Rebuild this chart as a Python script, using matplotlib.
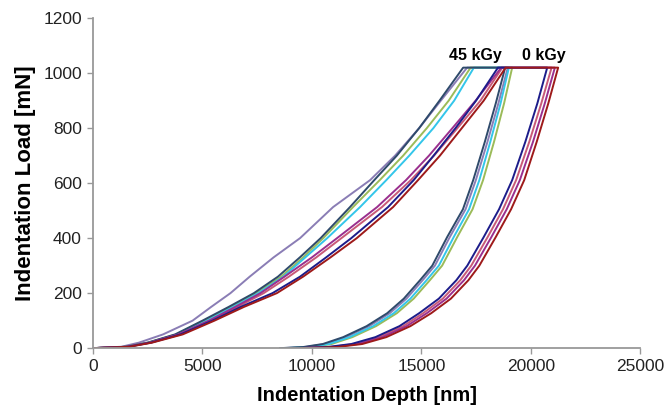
import matplotlib.pyplot as plt

# shared load levels [mN] for loading and unloading branches
load_up = [0, 5, 20, 50, 100, 150, 200, 260, 330, 400, 513, 611, 700, 800, 900, 1020]
load_down = [1020, 890, 750, 611, 505, 404, 300, 247, 180, 127, 80, 40, 15, 4, 0]

# 45 kGy specimens: depth [nm] at each load level
lav_up = [0, 1300, 2100, 3200, 4550, 5400, 6280, 7160, 8250, 9460, 10970, 12660, 13800, 14900, 15890, 17090]
lav_down = [18950, 18520, 18020, 17490, 17020, 16300, 15620, 15060, 14320, 13560, 12620, 11550, 10600, 9700, 8650]
slate_up = [0, 1500, 2500, 3750, 5000, 6200, 7350, 8450, 9450, 10400, 11740, 12850, 13880, 14900, 15830, 16910]
slate_down = [18830, 18400, 17900, 17370, 16900, 16180, 15500, 14940, 14200, 13440, 12500, 11430, 10500, 9600, 8550]
green_up = [0, 1500, 2500, 3800, 5100, 6300, 7450, 8600, 9600, 10520, 11880, 13100, 14170, 15250, 16250, 17250]
green_down = [19150, 18780, 18320, 17820, 17340, 16640, 15950, 15390, 14650, 13880, 12930, 11850, 10900, 9950, 8950]
cyan_up = [0, 1550, 2550, 3850, 5200, 6400, 7550, 8700, 9700, 10700, 12200, 13400, 14450, 15550, 16500, 17400]
cyan_down = [19000, 18620, 18150, 17650, 17180, 16480, 15800, 15240, 14500, 13740, 12800, 11720, 10780, 9850, 8800]

# 0 kGy specimens
purple_up = [0, 1550, 2600, 3900, 5300, 6500, 7650, 8750, 10000, 11150, 12980, 14300, 15350, 16420, 17480, 18650]
purple_down = [21100, 20640, 20100, 19500, 18900, 18200, 17450, 16950, 16150, 15250, 14330, 13220, 12100, 10970, 9450]
crimson_up = [0, 1550, 2600, 3950, 5350, 6600, 7800, 8950, 10200, 11350, 13200, 14520, 15580, 16650, 17700, 18700]
crimson_down = [20950, 20480, 19930, 19330, 18730, 18030, 17280, 16780, 15980, 15080, 14170, 13060, 11950, 10830, 9400]
navy_up = [0, 1600, 2650, 4000, 5450, 6750, 8200, 9460, 10650, 11800, 13480, 14650, 15560, 16560, 17500, 18500]
navy_down = [20750, 20300, 19750, 19150, 18550, 17850, 17100, 16600, 15800, 14900, 14000, 12900, 11800, 10700, 9320]
red_up = [0, 1650, 2700, 4100, 5550, 6900, 8400, 9600, 10850, 12050, 13710, 14850, 15850, 16850, 17850, 18850]
red_down = [21250, 20800, 20270, 19700, 19100, 18400, 17650, 17150, 16350, 15450, 14500, 13400, 12300, 11150, 9500]

curves = [
    (lav_up, lav_down, "#8A7DB5"),
    (green_up, green_down, "#9BBB59"),
    (cyan_up, cyan_down, "#33C6EA"),
    (slate_up, slate_down, "#2E4A6B"),
    (crimson_up, crimson_down, "#C85A78"),
    (purple_up, purple_down, "#9A2F8E"),
    (navy_up, navy_down, "#1C1C8A"),
    (red_up, red_down, "#9E1A1A"),
]

plt.rcParams["font.family"] = ["Liberation Sans", "DejaVu Sans"]

fig = plt.figure(figsize=(6.69, 4.12), dpi=100)
ax = fig.add_axes([0.139, 0.155, 0.818, 0.801])

for up, down, col in curves:
    ax.plot(up + down, load_up + load_down, color=col, lw=1.4)

ax.text(17450, 1047, "45 kGy", ha="center", va="baseline", fontsize=11.5, fontweight="bold")
ax.text(20600, 1047, "0 kGy", ha="center", va="baseline", fontsize=11.5, fontweight="bold")

ax.set_xlim(0, 25000)
ax.set_ylim(0, 1200)
ax.set_xticks(range(0, 25001, 5000))
ax.set_yticks(range(0, 1201, 200))

for side in ["top", "right"]:
    ax.spines[side].set_visible(False)
for side in ["left", "bottom"]:
    ax.spines[side].set_color("#999999")
    ax.spines[side].set_linewidth(1.3)
ax.tick_params(direction="out", length=4, width=1, color="#999999", labelsize=12.5, labelcolor="#222222")
ax.tick_params(axis="y", pad=4)

ax.set_xlabel("Indentation Depth [nm]", fontsize=14.5, fontweight="bold", labelpad=9)
ax.set_ylabel("Indentation Load [mN]", fontsize=16, fontweight="bold", labelpad=5)

fig.savefig("out.png", dpi=100)
